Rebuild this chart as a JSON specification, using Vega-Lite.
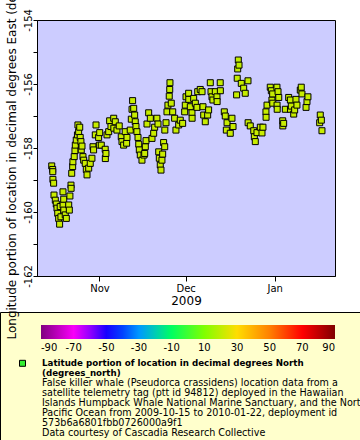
{
  "$schema": "https://vega.github.io/schema/vega-lite/v6.json",
  "width": 298,
  "height": 256,
  "autosize": "none",
  "padding": {"left": 37, "top": 20, "right": 25, "bottom": 164},
  "background": "white",
  "view": {"fill": "#ccccff", "stroke": "black", "strokeWidth": 1},
  "config": {
    "font": "DejaVu Sans",
    "view": {"fill": "#ccccff", "stroke": "black", "strokeWidth": 1}
  },
  "layer": [
    {
      "data": {"values": [
        {"t":"2009-10-15T09:00:00Z","lon":-158.56,"lat":21.6},
        {"t":"2009-10-15T17:00:00Z","lon":-158.67,"lat":21.6},
        {"t":"2009-10-15T18:00:00Z","lon":-158.74,"lat":21.6},
        {"t":"2009-10-15T19:00:00Z","lon":-158.98,"lat":21.5},
        {"t":"2009-10-16T01:00:00Z","lon":-159.10,"lat":21.5},
        {"t":"2009-10-16T04:00:00Z","lon":-159.47,"lat":21.5},
        {"t":"2009-10-16T15:00:00Z","lon":-159.63,"lat":21.5},
        {"t":"2009-10-16T23:00:00Z","lon":-159.75,"lat":21.4},
        {"t":"2009-10-17T05:00:00Z","lon":-159.88,"lat":21.4},
        {"t":"2009-10-17T11:00:00Z","lon":-160.04,"lat":21.4},
        {"t":"2009-10-17T19:00:00Z","lon":-160.20,"lat":21.4},
        {"t":"2009-10-18T03:00:00Z","lon":-160.38,"lat":21.4},
        {"t":"2009-10-18T08:00:00Z","lon":-159.83,"lat":21.4},
        {"t":"2009-10-18T14:00:00Z","lon":-160.15,"lat":21.4},
        {"t":"2009-10-19T07:00:00Z","lon":-159.37,"lat":21.5},
        {"t":"2009-10-19T08:00:00Z","lon":-159.78,"lat":21.5},
        {"t":"2009-10-19T13:00:00Z","lon":-159.60,"lat":21.5},
        {"t":"2009-10-19T14:00:00Z","lon":-159.94,"lat":21.5},
        {"t":"2009-10-20T02:00:00Z","lon":-160.09,"lat":21.4},
        {"t":"2009-10-20T11:00:00Z","lon":-160.20,"lat":21.4},
        {"t":"2009-10-21T07:00:00Z","lon":-159.78,"lat":21.5},
        {"t":"2009-10-21T12:00:00Z","lon":-159.94,"lat":21.5},
        {"t":"2009-10-21T17:00:00Z","lon":-159.50,"lat":21.5},
        {"t":"2009-10-22T02:00:00Z","lon":-159.16,"lat":21.5},
        {"t":"2009-10-22T03:00:00Z","lon":-159.26,"lat":21.5},
        {"t":"2009-10-22T08:00:00Z","lon":-158.79,"lat":21.6},
        {"t":"2009-10-22T16:00:00Z","lon":-158.58,"lat":21.6},
        {"t":"2009-10-22T18:00:00Z","lon":-158.43,"lat":21.6},
        {"t":"2009-10-23T05:00:00Z","lon":-158.27,"lat":21.6},
        {"t":"2009-10-23T11:00:00Z","lon":-158.08,"lat":21.6},
        {"t":"2009-10-23T14:00:00Z","lon":-157.91,"lat":21.5},
        {"t":"2009-10-23T22:00:00Z","lon":-157.75,"lat":21.5},
        {"t":"2009-10-24T08:00:00Z","lon":-157.59,"lat":21.5},
        {"t":"2009-10-24T12:00:00Z","lon":-157.28,"lat":21.4},
        {"t":"2009-10-24T18:00:00Z","lon":-157.49,"lat":21.4},
        {"t":"2009-10-25T03:00:00Z","lon":-157.35,"lat":21.4},
        {"t":"2009-10-25T07:00:00Z","lon":-157.67,"lat":21.4},
        {"t":"2009-10-25T13:00:00Z","lon":-157.80,"lat":21.5},
        {"t":"2009-10-25T16:00:00Z","lon":-158.06,"lat":21.5},
        {"t":"2009-10-25T22:00:00Z","lon":-157.94,"lat":21.5},
        {"t":"2009-10-26T06:00:00Z","lon":-158.27,"lat":21.6},
        {"t":"2009-10-26T12:00:00Z","lon":-158.38,"lat":21.6},
        {"t":"2009-10-27T01:00:00Z","lon":-158.48,"lat":21.6},
        {"t":"2009-10-27T10:00:00Z","lon":-158.67,"lat":21.6},
        {"t":"2009-10-27T16:00:00Z","lon":-158.84,"lat":21.6},
        {"t":"2009-10-28T06:00:00Z","lon":-158.63,"lat":21.6},
        {"t":"2009-10-28T19:00:00Z","lon":-158.48,"lat":21.6},
        {"t":"2009-10-29T09:00:00Z","lon":-158.32,"lat":21.6},
        {"t":"2009-10-29T18:00:00Z","lon":-157.96,"lat":21.5},
        {"t":"2009-10-29T23:00:00Z","lon":-158.06,"lat":21.5},
        {"t":"2009-10-30T13:00:00Z","lon":-157.59,"lat":21.4},
        {"t":"2009-10-30T19:00:00Z","lon":-157.28,"lat":21.4},
        {"t":"2009-10-31T17:00:00Z","lon":-157.67,"lat":21.4},
        {"t":"2009-10-31T23:00:00Z","lon":-157.91,"lat":21.4},
        {"t":"2009-11-01T02:00:00Z","lon":-157.52,"lat":21.4},
        {"t":"2009-11-01T15:00:00Z","lon":-157.91,"lat":21.4},
        {"t":"2009-11-03T00:00:00Z","lon":-158.04,"lat":21.5},
        {"t":"2009-11-03T01:00:00Z","lon":-158.33,"lat":21.5},
        {"t":"2009-11-03T06:00:00Z","lon":-158.17,"lat":21.5},
        {"t":"2009-11-03T15:00:00Z","lon":-157.59,"lat":21.4},
        {"t":"2009-11-04T05:00:00Z","lon":-157.49,"lat":21.4},
        {"t":"2009-11-04T13:00:00Z","lon":-157.15,"lat":21.3},
        {"t":"2009-11-05T00:00:00Z","lon":-157.33,"lat":21.3},
        {"t":"2009-11-05T23:00:00Z","lon":-157.07,"lat":21.3},
        {"t":"2009-11-06T00:00:00Z","lon":-157.38,"lat":21.3},
        {"t":"2009-11-06T12:00:00Z","lon":-157.18,"lat":21.3},
        {"t":"2009-11-07T02:00:00Z","lon":-157.44,"lat":21.3},
        {"t":"2009-11-07T21:00:00Z","lon":-157.31,"lat":21.3},
        {"t":"2009-11-08T14:00:00Z","lon":-157.65,"lat":21.4},
        {"t":"2009-11-08T20:00:00Z","lon":-157.80,"lat":21.4},
        {"t":"2009-11-09T10:00:00Z","lon":-157.91,"lat":21.4},
        {"t":"2009-11-09T23:00:00Z","lon":-157.49,"lat":21.4},
        {"t":"2009-11-10T11:00:00Z","lon":-157.85,"lat":21.4},
        {"t":"2009-11-10T14:00:00Z","lon":-157.67,"lat":21.4},
        {"t":"2009-11-11T17:00:00Z","lon":-157.44,"lat":21.3},
        {"t":"2009-11-12T02:00:00Z","lon":-157.10,"lat":21.2},
        {"t":"2009-11-12T08:00:00Z","lon":-156.79,"lat":21.1},
        {"t":"2009-11-12T13:00:00Z","lon":-156.52,"lat":21.0},
        {"t":"2009-11-12T22:00:00Z","lon":-156.76,"lat":21.1},
        {"t":"2009-11-13T06:00:00Z","lon":-156.97,"lat":21.1},
        {"t":"2009-11-13T11:00:00Z","lon":-157.18,"lat":21.2},
        {"t":"2009-11-13T17:00:00Z","lon":-157.33,"lat":21.3},
        {"t":"2009-11-14T01:00:00Z","lon":-157.49,"lat":21.3},
        {"t":"2009-11-14T10:00:00Z","lon":-157.67,"lat":21.4},
        {"t":"2009-11-14T16:00:00Z","lon":-157.88,"lat":21.4},
        {"t":"2009-11-14T21:00:00Z","lon":-158.06,"lat":21.5},
        {"t":"2009-11-15T05:00:00Z","lon":-158.22,"lat":21.5},
        {"t":"2009-11-15T19:00:00Z","lon":-158.38,"lat":21.6},
        {"t":"2009-11-16T12:00:00Z","lon":-158.22,"lat":21.5},
        {"t":"2009-11-16T18:00:00Z","lon":-158.17,"lat":21.5},
        {"t":"2009-11-16T23:00:00Z","lon":-157.96,"lat":21.5},
        {"t":"2009-11-17T05:00:00Z","lon":-157.77,"lat":21.4},
        {"t":"2009-11-17T13:00:00Z","lon":-157.25,"lat":21.3},
        {"t":"2009-11-18T03:00:00Z","lon":-156.90,"lat":21.1},
        {"t":"2009-11-18T17:00:00Z","lon":-157.07,"lat":21.2},
        {"t":"2009-11-19T07:00:00Z","lon":-157.70,"lat":21.4},
        {"t":"2009-11-19T21:00:00Z","lon":-157.54,"lat":21.4},
        {"t":"2009-11-20T05:00:00Z","lon":-157.35,"lat":21.3},
        {"t":"2009-11-21T00:00:00Z","lon":-157.07,"lat":21.2},
        {"t":"2009-11-21T09:00:00Z","lon":-157.25,"lat":21.3},
        {"t":"2009-11-21T15:00:00Z","lon":-158.12,"lat":21.5},
        {"t":"2009-11-21T20:00:00Z","lon":-158.32,"lat":21.6},
        {"t":"2009-11-22T04:00:00Z","lon":-158.53,"lat":21.6},
        {"t":"2009-11-22T10:00:00Z","lon":-158.69,"lat":21.6},
        {"t":"2009-11-22T18:00:00Z","lon":-158.38,"lat":21.6},
        {"t":"2009-11-23T00:00:00Z","lon":-158.19,"lat":21.5},
        {"t":"2009-11-23T08:00:00Z","lon":-157.83,"lat":21.4},
        {"t":"2009-11-23T17:00:00Z","lon":-157.96,"lat":21.5},
        {"t":"2009-11-23T18:00:00Z","lon":-157.44,"lat":21.3},
        {"t":"2009-11-24T04:00:00Z","lon":-157.21,"lat":21.2},
        {"t":"2009-11-24T12:00:00Z","lon":-156.87,"lat":21.1},
        {"t":"2009-11-24T20:00:00Z","lon":-156.66,"lat":21.0},
        {"t":"2009-11-25T07:00:00Z","lon":-156.38,"lat":20.9},
        {"t":"2009-11-25T11:00:00Z","lon":-156.17,"lat":20.8},
        {"t":"2009-11-25T13:00:00Z","lon":-155.96,"lat":20.7},
        {"t":"2009-11-26T00:00:00Z","lon":-156.60,"lat":21.0},
        {"t":"2009-11-26T12:00:00Z","lon":-156.87,"lat":21.1},
        {"t":"2009-11-27T04:00:00Z","lon":-157.07,"lat":21.2},
        {"t":"2009-11-27T15:00:00Z","lon":-157.44,"lat":21.3},
        {"t":"2009-11-28T14:00:00Z","lon":-157.28,"lat":21.3},
        {"t":"2009-11-29T03:00:00Z","lon":-157.13,"lat":21.2},
        {"t":"2009-11-29T23:00:00Z","lon":-157.23,"lat":21.2},
        {"t":"2009-11-30T16:00:00Z","lon":-156.87,"lat":21.1},
        {"t":"2009-11-30T21:00:00Z","lon":-156.66,"lat":21.0},
        {"t":"2009-12-01T03:00:00Z","lon":-156.40,"lat":20.9},
        {"t":"2009-12-02T01:00:00Z","lon":-156.29,"lat":20.9},
        {"t":"2009-12-02T02:00:00Z","lon":-156.48,"lat":20.9},
        {"t":"2009-12-02T15:00:00Z","lon":-156.71,"lat":21.0},
        {"t":"2009-12-03T05:00:00Z","lon":-156.90,"lat":21.1},
        {"t":"2009-12-03T06:00:00Z","lon":-157.07,"lat":21.2},
        {"t":"2009-12-03T19:00:00Z","lon":-156.45,"lat":20.9},
        {"t":"2009-12-04T09:00:00Z","lon":-156.60,"lat":21.0},
        {"t":"2009-12-04T23:00:00Z","lon":-156.73,"lat":21.0},
        {"t":"2009-12-05T05:00:00Z","lon":-156.24,"lat":20.9},
        {"t":"2009-12-06T02:00:00Z","lon":-156.17,"lat":20.8},
        {"t":"2009-12-06T17:00:00Z","lon":-156.24,"lat":20.9},
        {"t":"2009-12-07T01:00:00Z","lon":-156.71,"lat":21.0},
        {"t":"2009-12-07T07:00:00Z","lon":-156.97,"lat":21.1},
        {"t":"2009-12-07T20:00:00Z","lon":-157.18,"lat":21.2},
        {"t":"2009-12-08T16:00:00Z","lon":-156.97,"lat":21.1},
        {"t":"2009-12-09T00:00:00Z","lon":-156.81,"lat":21.1},
        {"t":"2009-12-09T14:00:00Z","lon":-155.96,"lat":20.7},
        {"t":"2009-12-09T20:00:00Z","lon":-156.24,"lat":20.9},
        {"t":"2009-12-10T04:00:00Z","lon":-156.40,"lat":20.9},
        {"t":"2009-12-10T12:00:00Z","lon":-156.50,"lat":20.9},
        {"t":"2009-12-11T08:00:00Z","lon":-156.24,"lat":20.9},
        {"t":"2009-12-11T22:00:00Z","lon":-156.40,"lat":20.9},
        {"t":"2009-12-11T23:00:00Z","lon":-156.55,"lat":21.0},
        {"t":"2009-12-13T01:00:00Z","lon":-155.96,"lat":20.7},
        {"t":"2009-12-13T02:00:00Z","lon":-156.21,"lat":20.8},
        {"t":"2009-12-14T11:00:00Z","lon":-156.87,"lat":21.1},
        {"t":"2009-12-14T19:00:00Z","lon":-157.00,"lat":21.1},
        {"t":"2009-12-15T04:00:00Z","lon":-157.44,"lat":21.3},
        {"t":"2009-12-15T10:00:00Z","lon":-157.21,"lat":21.2},
        {"t":"2009-12-16T13:00:00Z","lon":-157.54,"lat":21.4},
        {"t":"2009-12-17T03:00:00Z","lon":-157.07,"lat":21.2},
        {"t":"2009-12-17T12:00:00Z","lon":-157.33,"lat":21.3},
        {"t":"2009-12-18T18:00:00Z","lon":-156.34,"lat":20.8},
        {"t":"2009-12-18T23:00:00Z","lon":-155.82,"lat":20.6},
        {"t":"2009-12-19T03:00:00Z","lon":-155.53,"lat":20.4},
        {"t":"2009-12-19T08:00:00Z","lon":-155.25,"lat":20.3},
        {"t":"2009-12-19T14:00:00Z","lon":-155.41,"lat":20.3},
        {"t":"2009-12-20T09:00:00Z","lon":-155.98,"lat":20.7},
        {"t":"2009-12-21T05:00:00Z","lon":-156.13,"lat":20.8},
        {"t":"2009-12-21T18:00:00Z","lon":-156.29,"lat":20.9},
        {"t":"2009-12-22T17:00:00Z","lon":-155.90,"lat":20.6},
        {"t":"2009-12-22T18:00:00Z","lon":-157.21,"lat":21.2},
        {"t":"2009-12-23T12:00:00Z","lon":-157.31,"lat":21.3},
        {"t":"2009-12-24T17:00:00Z","lon":-157.46,"lat":21.3},
        {"t":"2009-12-24T22:00:00Z","lon":-157.65,"lat":21.4},
        {"t":"2009-12-25T06:00:00Z","lon":-157.80,"lat":21.4},
        {"t":"2009-12-25T20:00:00Z","lon":-157.52,"lat":21.4},
        {"t":"2009-12-27T00:00:00Z","lon":-157.35,"lat":21.3},
        {"t":"2009-12-27T14:00:00Z","lon":-157.53,"lat":21.4},
        {"t":"2009-12-27T22:00:00Z","lon":-157.35,"lat":21.3},
        {"t":"2009-12-28T23:00:00Z","lon":-156.87,"lat":21.1},
        {"t":"2009-12-29T00:00:00Z","lon":-157.04,"lat":21.1},
        {"t":"2009-12-29T08:00:00Z","lon":-156.66,"lat":21.0},
        {"t":"2009-12-30T11:00:00Z","lon":-156.10,"lat":20.8},
        {"t":"2009-12-30T20:00:00Z","lon":-156.21,"lat":20.8},
        {"t":"2009-12-31T01:00:00Z","lon":-156.50,"lat":20.9},
        {"t":"2009-12-31T07:00:00Z","lon":-156.31,"lat":20.9},
        {"t":"2009-12-31T08:00:00Z","lon":-156.60,"lat":21.0},
        {"t":"2010-01-01T19:00:00Z","lon":-156.10,"lat":20.8},
        {"t":"2010-01-01T20:00:00Z","lon":-156.66,"lat":21.0},
        {"t":"2010-01-01T21:00:00Z","lon":-156.79,"lat":21.0},
        {"t":"2010-01-02T04:00:00Z","lon":-156.24,"lat":20.9},
        {"t":"2010-01-02T10:00:00Z","lon":-156.42,"lat":20.9},
        {"t":"2010-01-03T19:00:00Z","lon":-157.15,"lat":21.2},
        {"t":"2010-01-03T20:00:00Z","lon":-157.31,"lat":21.3},
        {"t":"2010-01-04T03:00:00Z","lon":-157.23,"lat":21.2},
        {"t":"2010-01-04T17:00:00Z","lon":-156.79,"lat":21.0},
        {"t":"2010-01-05T21:00:00Z","lon":-156.42,"lat":20.9},
        {"t":"2010-01-06T11:00:00Z","lon":-156.50,"lat":20.9},
        {"t":"2010-01-06T12:00:00Z","lon":-156.79,"lat":21.0},
        {"t":"2010-01-06T19:00:00Z","lon":-156.69,"lat":21.0},
        {"t":"2010-01-07T15:00:00Z","lon":-156.94,"lat":21.1},
        {"t":"2010-01-07T23:00:00Z","lon":-156.81,"lat":21.1},
        {"t":"2010-01-08T10:00:00Z","lon":-156.48,"lat":20.9},
        {"t":"2010-01-08T18:00:00Z","lon":-156.66,"lat":21.0},
        {"t":"2010-01-09T22:00:00Z","lon":-156.19,"lat":20.8},
        {"t":"2010-01-10T06:00:00Z","lon":-156.10,"lat":20.8},
        {"t":"2010-01-10T12:00:00Z","lon":-156.31,"lat":20.9},
        {"t":"2010-01-11T22:00:00Z","lon":-156.73,"lat":21.0},
        {"t":"2010-01-12T06:00:00Z","lon":-156.55,"lat":21.0},
        {"t":"2010-01-12T14:00:00Z","lon":-156.40,"lat":20.9},
        {"t":"2010-01-16T16:00:00Z","lon":-157.21,"lat":21.2},
        {"t":"2010-01-16T21:00:00Z","lon":-156.97,"lat":21.1},
        {"t":"2010-01-17T06:00:00Z","lon":-157.13,"lat":21.2},
        {"t":"2010-01-17T11:00:00Z","lon":-157.46,"lat":21.3}
      ]},
      "mark": {"type": "point", "shape": "square", "filled": true, "size": 36, "stroke": "black", "strokeWidth": 1, "opacity": 1},
      "encoding": {
        "x": {
          "field": "t", "type": "temporal",
          "scale": {"type": "utc", "domain": [{"year": 2009, "month": 10, "date": 10, "hours": 6, "utc": true}, {"year": 2010, "month": 1, "date": 22, "utc": true}]},
          "axis": {
            "title": "2009", "format": "%b", "tickCount": {"interval": "month", "step": 1},
            "labelFontSize": 10, "labelColor": "black", "tickSize": 5, "tickColor": "black", "domainColor": "black",
            "labelPadding": 2, "titleFontSize": 12, "titleFontWeight": "normal", "titleColor": "black", "titlePadding": 2,
            "grid": false, "labelFlush": false, "labelOverlap": false
          }
        },
        "y": {
          "field": "lon", "type": "quantitative",
          "scale": {"domain": [-162, -154], "nice": false, "zero": false},
          "axis": {
            "values": [-162, -161, -160, -159, -158, -157, -156, -155, -154],
            "labelExpr": "datum.value % 2 == 0 ? '' + datum.value : ''",
            "labelAngle": 270, "labelAlign": "center", "labelBaseline": "alphabetic", "labelPadding": 2,
            "labelFontSize": 10, "labelColor": "black", "tickSize": 4, "tickColor": "black", "domainColor": "black",
            "grid": false, "labelFlush": false, "labelOverlap": false,
            "title": "Longitude portion of location in decimal degrees East (degrees_east)",
            "titleFontSize": 12, "titleFontWeight": "normal", "titleColor": "black", "titleAngle": 270,
            "titleX": -22, "titleY": 112, "titleAlign": "center", "titleBaseline": "alphabetic", "titleLimit": 2000,
            "zindex": 3
          }
        },
        "fill": {
          "field": "lat", "type": "quantitative",
          "scale": {
            "domain": [-90, -69, -48, -29, -10, 10, 30, 50, 70, 90],
            "range": ["#800080", "#ff00ff", "#0000ff", "#00a0ff", "#00ff60", "#80ff00", "#ffdd00", "#ff8000", "#ff0000", "#800000"],
            "interpolate": "rgb"
          },
          "legend": {
            "orient": "none", "legendX": 4, "legendY": 305, "direction": "horizontal",
            "gradientLength": 294, "gradientThickness": 14, "gradientStrokeWidth": 0,
            "title": null, "padding": 0, "zindex": 2,
            "values": [-90, -70, -50, -30, -10, 10, 30, 50, 70, 90],
            "labelExpr": "'' + datum.value",
            "labelFontSize": 10, "labelColor": "black", "labelOffset": 4,
            "labelFlush": false, "labelOverlap": false
          }
        }
      }
    },
    {
      "data": {"values": [
        {"line": "Latitude portion of location in decimal degrees North"},
        {"line": "(degrees_north)"},
        {"line": "False killer whale (Pseudorca crassidens) location data from a"},
        {"line": "satellite telemetry tag (ptt id 94812) deployed in the Hawaiian"},
        {"line": "Islands Humpback Whale National Marine Sanctuary, and the North"},
        {"line": "Pacific Ocean from 2009-10-15 to 2010-01-22, deployment id"},
        {"line": "573b6a6801fbb0726000a9f1"},
        {"line": "Data courtesy of Cascadia Research Collective"}
      ]},
      "mark": {"type": "point", "filled": true, "opacity": 0},
      "encoding": {
        "shape": {
          "field": "line", "type": "nominal",
          "scale": {
            "domain": [
              "Latitude portion of location in decimal degrees North",
              "(degrees_north)",
              "False killer whale (Pseudorca crassidens) location data from a",
              "satellite telemetry tag (ptt id 94812) deployed in the Hawaiian",
              "Islands Humpback Whale National Marine Sanctuary, and the North",
              "Pacific Ocean from 2009-10-15 to 2010-01-22, deployment id",
              "573b6a6801fbb0726000a9f1",
              "Data courtesy of Cascadia Research Collective"
            ],
            "range": ["square", "square", "square", "square", "square", "square", "square", "square"]
          },
          "legend": {
            "orient": "none", "legendX": -37, "legendY": 292, "direction": "vertical", "columns": 1,
            "fillColor": "#ffffcc", "strokeColor": "black", "padding": 7, "zindex": 1,
            "title": " ", "titleFontSize": 24, "titlePadding": 15.5,
            "symbolSize": 36, "symbolOffset": 15, "labelOffset": 12, "rowPadding": -4,
            "labelFontSize": 9.6, "labelColor": "black", "labelLimit": 2000,
            "encoding": {
              "symbols": {
                "opacity": {"value": {"expr": "datum.index == 0 ? 1 : 0"}},
                "x": {"value": 15.5},
                "fill": {"value": "#33ee33"},
                "stroke": {"value": "black"},
                "strokeWidth": {"value": 1}
              },
              "labels": {
                "x": {"value": 35},
                "fontWeight": {"value": {"expr": "datum.index < 2 ? 'bold' : 'normal'"}},
                "fontSize": {"value": {"expr": "datum.index < 2 ? 8.7 : 9.6"}}
              }
            }
          }
        }
      }
    }
  ]
}
